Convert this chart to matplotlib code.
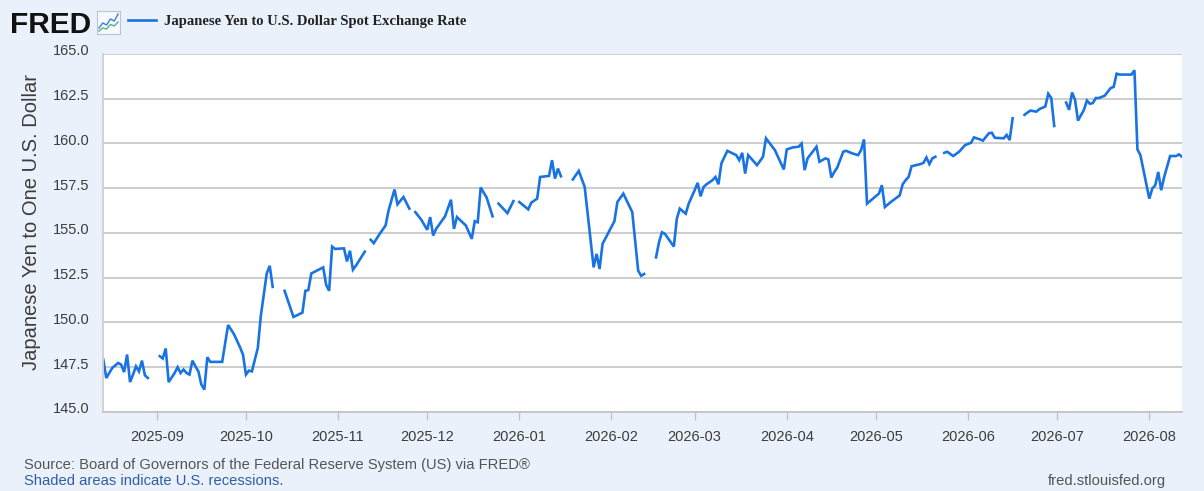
"""
FRED style chart: Japanese Yen to U.S. Dollar Spot Exchange Rate
"""
import matplotlib

matplotlib.use("Agg")
import matplotlib.pyplot as plt
import matplotlib.dates as mdates
import matplotlib.transforms as mtransforms
import numpy as np
import pandas as pd

nan = float("nan")

# ==========================================================
# Data (NaN = gap in series)
# ==========================================================
obs_dates = [
    "2025-08-14", "2025-08-15", "2025-08-17", "2025-08-19", "2025-08-20", "2025-08-21",
    "2025-08-22", "2025-08-23", "2025-08-24", "2025-08-25", "2025-08-26", "2025-08-27",
    "2025-08-28", "2025-08-29", "2025-08-31",
    "2025-09-02", "2025-09-03", "2025-09-04", "2025-09-05", "2025-09-07", "2025-09-08",
    "2025-09-09", "2025-09-10", "2025-09-11", "2025-09-12", "2025-09-13", "2025-09-14",
    "2025-09-15", "2025-09-16", "2025-09-17", "2025-09-18", "2025-09-19", "2025-09-23",
    "2025-09-25", "2025-09-27", "2025-09-29", "2025-09-30",
    "2025-10-01", "2025-10-02", "2025-10-03", "2025-10-05", "2025-10-06", "2025-10-08",
    "2025-10-09", "2025-10-10", "2025-10-12",
    "2025-10-14", "2025-10-17", "2025-10-20", "2025-10-21", "2025-10-22", "2025-10-23",
    "2025-10-27", "2025-10-28", "2025-10-29", "2025-10-30", "2025-10-31",
    "2025-11-03", "2025-11-04", "2025-11-05", "2025-11-06", "2025-11-07", "2025-11-10",
    "2025-11-11",
    "2025-11-12", "2025-11-13", "2025-11-15", "2025-11-17", "2025-11-18", "2025-11-20",
    "2025-11-21", "2025-11-23", "2025-11-25", "2025-11-26",
    "2025-11-27", "2025-11-29", "2025-12-01", "2025-12-02", "2025-12-03", "2025-12-04",
    "2025-12-07", "2025-12-09", "2025-12-10", "2025-12-11", "2025-12-14", "2025-12-16",
    "2025-12-17", "2025-12-18", "2025-12-19", "2025-12-21", "2025-12-23", "2025-12-24",
    "2025-12-25", "2025-12-28", "2025-12-30", "2025-12-31",
    "2026-01-01", "2026-01-04", "2026-01-05", "2026-01-07", "2026-01-08", "2026-01-11",
    "2026-01-12", "2026-01-13", "2026-01-14", "2026-01-15", "2026-01-17",
    "2026-01-19", "2026-01-21", "2026-01-23", "2026-01-26", "2026-01-27", "2026-01-28",
    "2026-01-29", "2026-02-02", "2026-02-03", "2026-02-05", "2026-02-08", "2026-02-10",
    "2026-02-11", "2026-02-12", "2026-02-14",
    "2026-02-16", "2026-02-17", "2026-02-18", "2026-02-19", "2026-02-22", "2026-02-23",
    "2026-02-24", "2026-02-26", "2026-02-27",
    "2026-03-01", "2026-03-02", "2026-03-03", "2026-03-04", "2026-03-05", "2026-03-07",
    "2026-03-08", "2026-03-09", "2026-03-10", "2026-03-12", "2026-03-15", "2026-03-16",
    "2026-03-17", "2026-03-18", "2026-03-19", "2026-03-22", "2026-03-24", "2026-03-25",
    "2026-03-28", "2026-03-31",
    "2026-04-01", "2026-04-03", "2026-04-05", "2026-04-06", "2026-04-07", "2026-04-08",
    "2026-04-11", "2026-04-12", "2026-04-14", "2026-04-15", "2026-04-16", "2026-04-17",
    "2026-04-18", "2026-04-20", "2026-04-21", "2026-04-23", "2026-04-25", "2026-04-26",
    "2026-04-27", "2026-04-28", "2026-04-30",
    "2026-05-02", "2026-05-03", "2026-05-04", "2026-05-06", "2026-05-09", "2026-05-10",
    "2026-05-11", "2026-05-12", "2026-05-13", "2026-05-16", "2026-05-17", "2026-05-18",
    "2026-05-19", "2026-05-20", "2026-05-21", "2026-05-23",
    "2026-05-24", "2026-05-25", "2026-05-27", "2026-05-29", "2026-05-31",
    "2026-06-02", "2026-06-03", "2026-06-05", "2026-06-06", "2026-06-08", "2026-06-09",
    "2026-06-10", "2026-06-13", "2026-06-14", "2026-06-15", "2026-06-16", "2026-06-18",
    "2026-06-20", "2026-06-21", "2026-06-22", "2026-06-24", "2026-06-25", "2026-06-27",
    "2026-06-28", "2026-06-29", "2026-06-30", "2026-07-02",
    "2026-07-04", "2026-07-05", "2026-07-06", "2026-07-07", "2026-07-08", "2026-07-10",
    "2026-07-11", "2026-07-12", "2026-07-13", "2026-07-14", "2026-07-15", "2026-07-17",
    "2026-07-19", "2026-07-20", "2026-07-21", "2026-07-22", "2026-07-26", "2026-07-27",
    "2026-07-28", "2026-07-29",
    "2026-08-01", "2026-08-02", "2026-08-03", "2026-08-04", "2026-08-05", "2026-08-06",
    "2026-08-08", "2026-08-10", "2026-08-11", "2026-08-12",
]

jpy_per_usd = [
    147.93, 146.90, 147.46, 147.74, 147.65, 147.23,
    148.21, 146.67, 147.09, 147.55, 147.27, 147.87,
    147.05, 146.90, nan,
    148.12, 147.99, 148.55, 146.67, 147.18, 147.50,
    147.18, 147.37, 147.18, 147.09, 147.87, 147.55,
    147.27, 146.53, 146.25, 148.06, 147.80, 147.80,
    149.86, 149.34, 148.62, 148.21,
    147.09, 147.31, 147.27, 148.58, 150.36, 152.74,
    153.17, 151.99, nan,
    151.77, 150.31, 150.55, 151.77, 151.81, 152.74,
    153.08, 152.10, 151.77, 154.24, 154.11,
    154.14, 153.41, 154.01, 152.95, 153.17, 153.96,
    nan,
    154.62, 154.43, 154.95, 155.42, 156.26, 157.43,
    156.60, 157.01, 156.36, nan,
    156.17, 155.74, 155.18, 155.89, 154.86, 155.23,
    155.93, 156.86, 155.23, 155.89, 155.42, 154.67,
    155.66, 155.60, 157.54, 156.98, 155.93, nan,
    156.64, 156.11, 156.78, nan,
    156.73, 156.32, 156.69, 156.92, 158.13, 158.19,
    159.07, 158.04, 158.60, 158.17, nan,
    157.99, 158.47, 157.57, 153.08, 153.83, 152.99,
    154.39, 155.66, 156.73, 157.20, 156.17, 152.89,
    152.61, 152.71, nan,
    153.64, 154.48, 155.04, 154.95, 154.24, 155.80,
    156.36, 156.08, 156.64,
    157.39, 157.80, 157.05, 157.57, 157.72, 157.95,
    158.13, 157.72, 158.89, 159.59, 159.35, 159.07,
    159.48, 158.32, 159.35, 158.79, 159.26, 160.29,
    159.63, 158.55,
    159.67, 159.78, 159.82, 160.00, 158.51, 159.17,
    159.82, 158.98, 159.17, 159.11, 158.10, 158.41,
    158.66, 159.54, 159.59, 159.45, 159.35, 159.63,
    160.23, 156.64, 156.92,
    157.20, 157.67, 156.45, 156.73, 157.10, 157.72,
    157.95, 158.13, 158.73, 158.85, 158.92, 159.22,
    158.85, 159.17, 159.26, nan,
    159.48, 159.54, 159.30, 159.54, 159.91,
    160.04, 160.34, 160.23, 160.16, 160.57, 160.60,
    160.32, 160.29, 160.48, 160.19, 161.41, nan,
    161.60, 161.73, 161.84, 161.78, 161.92, 162.07,
    162.78, 162.54, 160.98, nan,
    162.29, 161.88, 162.85, 162.44, 161.28, 161.88,
    162.40, 162.22, 162.26, 162.54, 162.54, 162.67,
    163.10, 163.16, 163.90, 163.85, 163.85, 164.09,
    159.67, 159.35,
    156.92, 157.48, 157.67, 158.41, 157.39, 158.13,
    159.30, 159.30, 159.39, 159.26,
]

y_ticks = [145.0, 147.5, 150.0, 152.5, 155.0, 157.5, 160.0, 162.5, 165.0]

series_name = "Japanese Yen to U.S. Dollar Spot Exchange Rate"
y_title = "Japanese Yen to One U.S. Dollar"
source_note = "Source: Board of Governors of the Federal Reserve System (US) via FRED\u00ae"
shade_note = "Shaded areas indicate U.S. recessions."
site_note = "fred.stlouisfed.org"

# Colours
BG = "#eaf1fa"
LINE = "#1a73e3"
GRID = "#c9c9c9"
TEXT = "#3d3d3d"

rate = pd.Series(jpy_per_usd, index=pd.to_datetime(obs_dates))

# ==========================================================
# Figure
# ==========================================================
fig = plt.figure(figsize=(12.04, 4.91), dpi=100, facecolor=BG)
ax = fig.add_axes([103.3 / 1204, 1 - 412 / 491, (1182 - 103.3) / 1204, (412 - 54) / 491])
ax.set_facecolor("white")

(line,) = ax.plot(rate.index, rate.values, color=LINE, linewidth=1.9,
                  solid_joinstyle="miter", label=series_name)

ax.set_xlim(rate.index[0], rate.index[-1])
ax.set_ylim(y_ticks[0], y_ticks[-1])

# Grid (horizontal only)
ax.set_yticks(y_ticks)
ax.yaxis.set_major_formatter(matplotlib.ticker.FormatStrFormatter("%.1f"))
ax.grid(axis="y", color=GRID, linewidth=1.3)
ax.grid(axis="x", visible=False)
ax.set_axisbelow(True)

for side in ["top", "right"]:
    ax.spines[side].set_visible(False)
ax.spines["left"].set_color("#cfcfcf")
ax.spines["left"].set_linewidth(1.3)
ax.spines["bottom"].set_color("#c4c4c4")
ax.spines["bottom"].set_linewidth(1.3)

ax.xaxis.set_major_locator(mdates.MonthLocator())
ax.xaxis.set_major_formatter(mdates.DateFormatter("%Y-%m"))
ax.tick_params(axis="x", colors="#c4c4c4", length=6, width=1.0, pad=7,
               labelcolor=TEXT, labelsize=10.5)
ax.tick_params(axis="y", length=0, pad=10, labelcolor=TEXT, labelsize=10.5)
for lab in ax.get_xticklabels() + ax.get_yticklabels():
    lab.set_family("Liberation Sans")

# FRED puts value labels a little above their grid lines
up = mtransforms.ScaledTranslation(0, 4 / 100, fig.dpi_scale_trans)
for lab in ax.get_yticklabels():
    lab.set_transform(lab.get_transform() + up)

ax.set_ylabel(y_title, fontsize=14.5, color=TEXT, family="Liberation Sans")
ax.yaxis.set_label_coords(-0.058, 0.53)

# ==========================================================
# Header: logo + legend
# ==========================================================
fig.text(10 / 1204, 1 - 33 / 491, "FRED", fontsize=21.5, fontweight="bold",
         color="#111111", family="Liberation Sans")
icon = fig.add_axes([97 / 1204, 1 - 34 / 491, 23 / 1204, 23 / 491])
icon.set_facecolor("#f7f9fc")
icon_x = [0, 1, 2, 3, 4, 5]
icon.plot(icon_x, [1.2, 2.2, 1.8, 3.0, 2.6, 4.0], color="#3b82d6", linewidth=1.0)
icon.plot(icon_x, [0.6, 1.2, 1.0, 1.9, 1.6, 2.4], color="#4fb58d", linewidth=1.0)
icon.set_xlim(-0.5, 5.5)
icon.set_ylim(0, 4.6)
icon.set_xticks([])
icon.set_yticks([])
for s in icon.spines.values():
    s.set_color("#b9c6d6")
    s.set_linewidth(0.8)

fig.legend(handles=[line], loc="center left", bbox_to_anchor=(122 / 1204, 1 - 21 / 491),
           frameon=False, handlelength=1.9, handletextpad=0.6, borderaxespad=0,
           prop={"family": "Liberation Serif", "weight": "bold", "size": 10.5},
           labelcolor="#222222")

# ==========================================================
# Footer notes
# ==========================================================
fig.text(24 / 1204, 1 - 465 / 491, source_note, fontsize=10.6, color="#555555",
         family="Liberation Sans", va="center")
fig.text(24 / 1204, 1 - 481 / 491, shade_note, fontsize=10.6, color="#2f5ea8",
         family="Liberation Sans", va="center")
fig.text(1166 / 1204, 1 - 481 / 491, site_note, fontsize=10.6, color="#555555",
         family="Liberation Sans", va="center", ha="right")

fig.savefig("out.png", dpi=100, facecolor=BG)
